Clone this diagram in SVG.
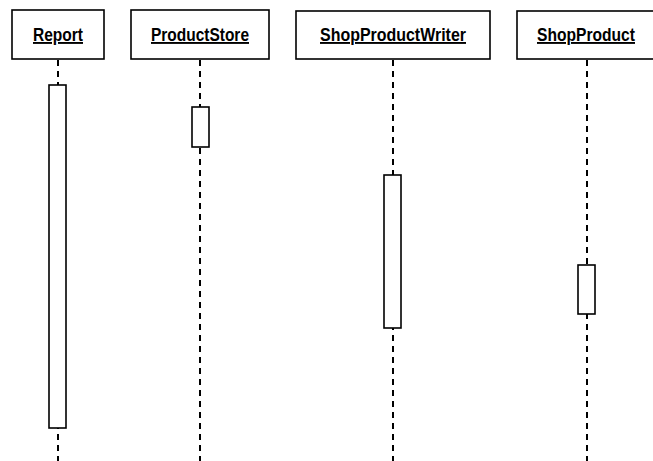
<svg xmlns="http://www.w3.org/2000/svg" width="653" height="461" viewBox="0 0 653 461">
<style>
.box{fill:#fff;stroke:#000;stroke-width:1.6}
.act{fill:#fff;stroke:#000;stroke-width:1.6}
.life{stroke:#000;stroke-width:2;stroke-dasharray:6 5;fill:none}
.lbl{font-family:"Liberation Sans",Arial,sans-serif;font-weight:bold;font-size:19px;text-decoration:underline;fill:#000}
</style>
<rect width="653" height="461" fill="#fff"/>
<g id="connectors">
<line class="life" x1="58" y1="60" x2="58" y2="461"/>
<line class="life" x1="200" y1="60" x2="200" y2="461"/>
<line class="life" x1="393" y1="60" x2="393" y2="461"/>
<line class="life" x1="587" y1="60" x2="587" y2="461"/>
</g>
<g id="report">
<rect class="box" x="12" y="10" width="92" height="49"/>
<text class="lbl" x="33" y="41" textLength="50" lengthAdjust="spacingAndGlyphs">Report</text>
<rect class="act" x="49" y="85" width="17" height="343"/>
</g>
<g id="productstore">
<rect class="box" x="131" y="10" width="138" height="49"/>
<text class="lbl" x="151" y="41" textLength="98" lengthAdjust="spacingAndGlyphs">ProductStore</text>
<rect class="act" x="192" y="107" width="17" height="40"/>
</g>
<g id="shopproductwriter">
<rect class="box" x="296" y="11" width="194" height="48"/>
<text class="lbl" x="320" y="41" textLength="146" lengthAdjust="spacingAndGlyphs">ShopProductWriter</text>
<rect class="act" x="384" y="175" width="17" height="153"/>
</g>
<g id="shopproduct">
<rect class="box" x="517" y="11" width="150" height="48"/>
<text class="lbl" x="537" y="41" textLength="98" lengthAdjust="spacingAndGlyphs">ShopProduct</text>
<rect class="act" x="578" y="265" width="17" height="49"/>
</g>
</svg>
